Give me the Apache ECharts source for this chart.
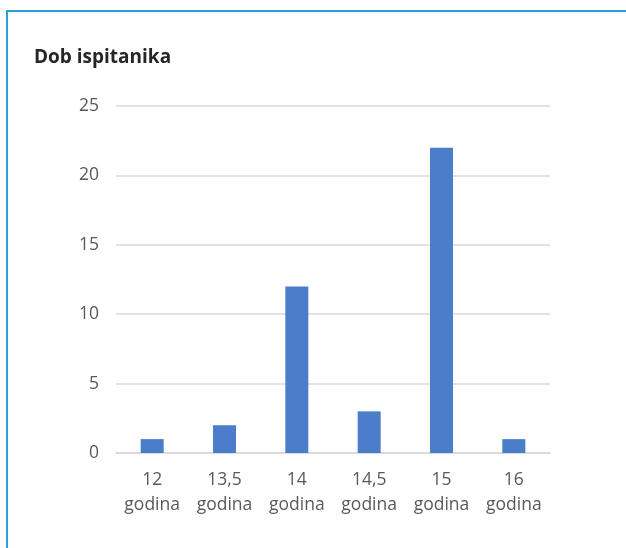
<!DOCTYPE html>
<html><head><meta charset="utf-8">
<script src="https://cdn.jsdelivr.net/npm/echarts@6/dist/echarts.min.js"></script>
<style>
html,body{margin:0;padding:0;background:#fff;}
#frame{position:absolute;left:6px;top:10px;width:620px;height:538px;border-left:2px solid #2a9fd8;border-top:2px solid #2a9fd8;}
#c{position:absolute;left:0;top:0;width:626px;height:548px;}
</style></head><body>
<div id="frame"></div>
<div id="c"></div>
<script>
const title = 'Dob ispitanika';
const categories = ['12\ngodina', '13,5\ngodina', '14\ngodina', '14,5\ngodina', '15\ngodina', '16\ngodina'];
const values = [1, 2, 12, 3, 22, 1];
const yTicks = [0, 5, 10, 15, 20, 25];

const chart = echarts.init(document.getElementById('c'), null, {renderer: 'canvas'});
chart.setOption({
  animation: false,
  backgroundColor: 'transparent',
  title: {
    text: title, left: 34, top: 48, padding: 0,
    textStyle: {fontFamily: 'Open Sans', fontWeight: 'bold', fontSize: 19, color: '#262626'}
  },
  grid: {left: 116, right: 76, top: 106, bottom: 95, containLabel: false},
  xAxis: {
    type: 'category', data: categories,
    axisLine: {lineStyle: {color: '#d9d9d9', width: 1.5}},
    axisTick: {show: false},
    axisLabel: {fontFamily: 'Open Sans', fontSize: 17.5, color: '#595959', lineHeight: 25, margin: 15}
  },
  yAxis: {
    type: 'value', min: yTicks[0], max: yTicks[yTicks.length - 1], interval: 5,
    axisLine: {show: false}, axisTick: {show: false},
    splitLine: {lineStyle: {color: '#d9d9d9', width: 1.5}},
    axisLabel: {fontFamily: 'Open Sans', fontSize: 17.5, color: '#595959', margin: 17}
  },
  series: [{
    type: 'bar', data: values, barWidth: 23,
    itemStyle: {color: '#4a7ecb'}
  }]
});
</script>
</body></html>
